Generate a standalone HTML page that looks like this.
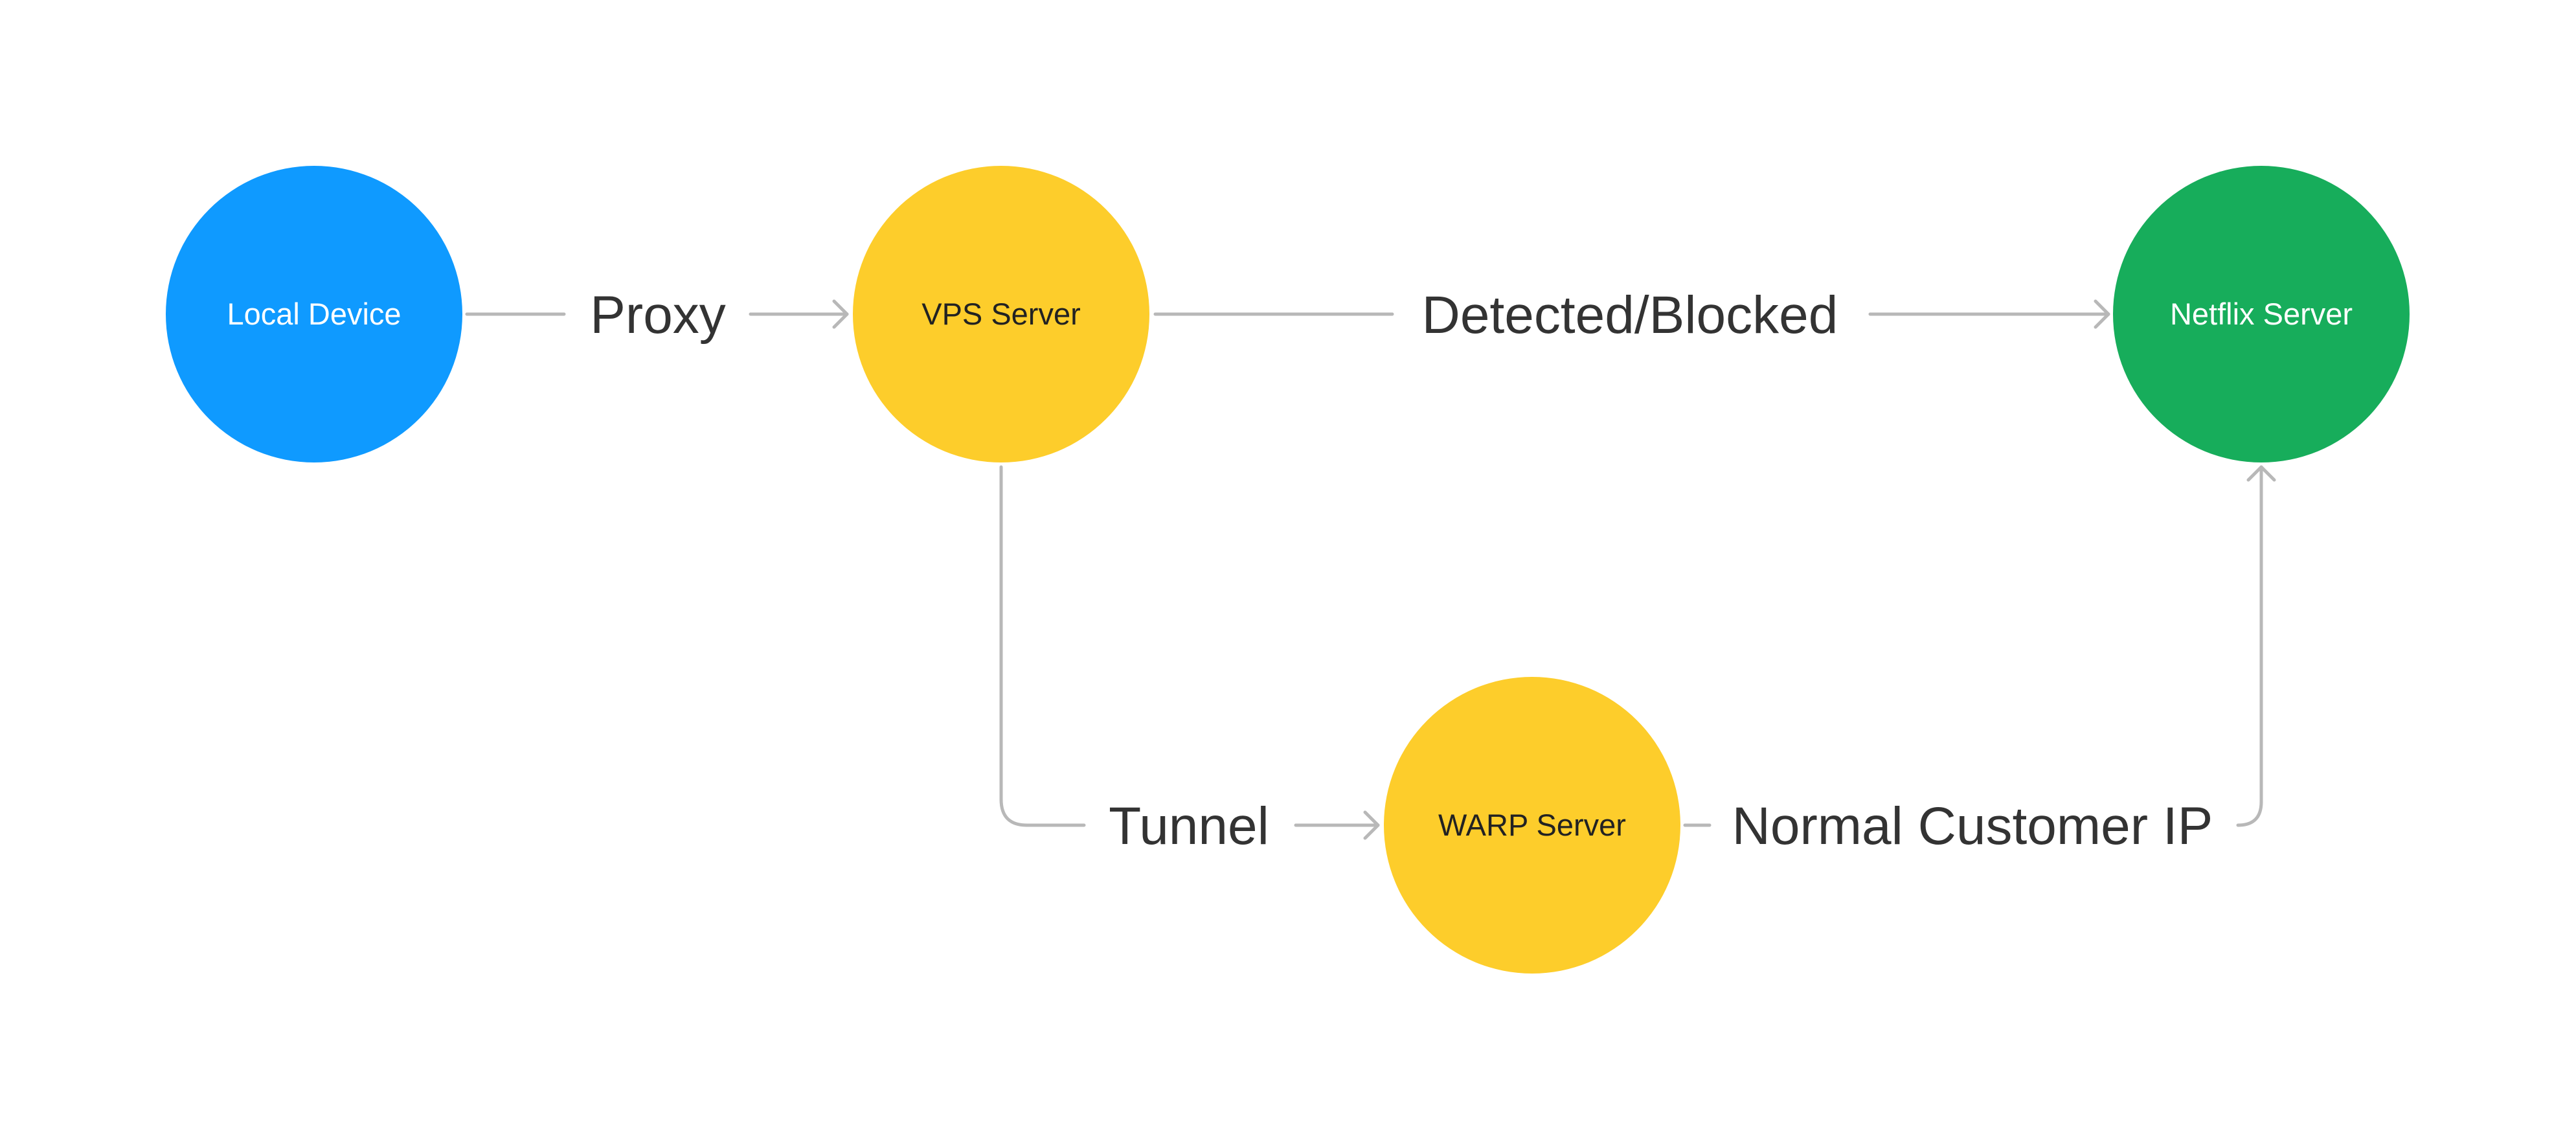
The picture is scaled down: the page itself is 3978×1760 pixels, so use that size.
<!DOCTYPE html>
<html><head><meta charset="utf-8"><style>
html,body{margin:0;padding:0;background:#fff;}
svg{display:block;}
text{font-family:"Liberation Sans",sans-serif;}
</style></head><body>
<svg width="3978" height="1760" viewBox="0 0 3978 1760" xmlns="http://www.w3.org/2000/svg">
<rect width="3978" height="1760" fill="#fff"/>
<g fill="none" stroke="#b8b8b8" stroke-width="5" stroke-linecap="round" stroke-linejoin="round">
<line x1="721" y1="485" x2="871" y2="485"/>
<line x1="1159" y1="485" x2="1308" y2="485"/>
<polyline points="1288,465 1308,485 1288,505"/>
<line x1="1784" y1="485" x2="2150" y2="485"/>
<line x1="2888" y1="485" x2="3256" y2="485"/>
<polyline points="3236,465 3256,485 3236,505"/>
<path d="M1546,721 L1546,1234 Q1546,1274 1586,1274 L1674,1274"/>
<line x1="2001" y1="1274" x2="2128" y2="1274"/>
<polyline points="2108,1254 2128,1274 2108,1294"/>
<line x1="2602" y1="1274" x2="2640" y2="1274"/>
<path d="M3456,1274 Q3492,1274 3492,1238 L3492,721"/>
<polyline points="3472,741 3492,721 3512,741"/>
</g>
<circle cx="485" cy="485" r="229" fill="#0f9aff"/>
<circle cx="1546" cy="485" r="229" fill="#fdcd2b"/>
<circle cx="3492" cy="485" r="229" fill="#17ad5b"/>
<circle cx="2366" cy="1274" r="229" fill="#fdcd2b"/>
<g font-size="47" text-anchor="middle">
<text x="485" y="501" fill="#fff">Local Device</text>
<text x="1546" y="501" fill="#222">VPS Server</text>
<text x="3492" y="501" fill="#fff">Netflix Server</text>
<text x="2366" y="1290" fill="#222">WARP Server</text>
</g>
<g font-size="82" fill="#333" text-anchor="middle">
<text x="1016" y="514">Proxy</text>
<text x="2517" y="514">Detected/Blocked</text>
<text x="1836" y="1303">Tunnel</text>
<text x="3046" y="1303">Normal Customer IP</text>
</g>
</svg>
</body></html>
